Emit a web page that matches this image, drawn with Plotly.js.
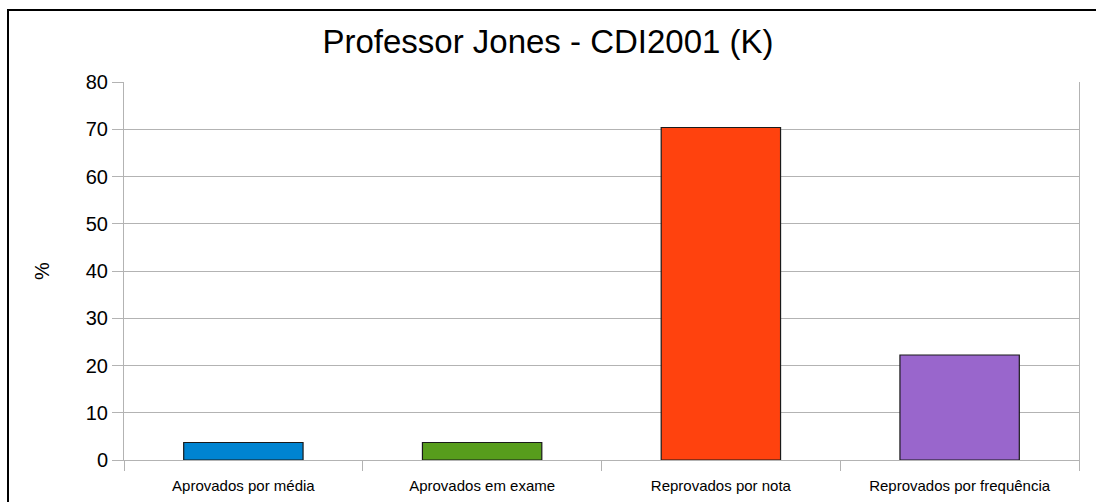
<!DOCTYPE html>
<html><head><meta charset="utf-8">
<script src="https://cdn.plot.ly/plotly-3.0.1.min.js"></script>
<style>body{margin:0;background:#fff;}#wrap{position:relative;width:1096px;height:502px;overflow:hidden;}#chart{width:1096px;height:502px;}#frame{position:absolute;left:7px;top:9px;width:1200px;height:600px;border:2px solid #000;pointer-events:none;}</style>
</head><body>
<div id="wrap"><div id="chart"></div><div id="frame"></div></div>
<script>
const categories = ["Aprovados por média", "Aprovados em exame", "Reprovados por nota", "Reprovados por frequência"];
const values = [3.70, 3.70, 70.37, 22.22];
const colors = ["#0084d1", "#579d1c", "#ff420e", "#9966cc"];
const yTicks = [0, 10, 20, 30, 40, 50, 60, 70, 80];

Plotly.newPlot("chart", [{
  type: "bar", x: categories, y: values,
  marker: {color: colors, line: {color: "#1a1a1a", width: 1.2}},
  width: 0.5, hoverinfo: "none"
}], {
  width: 1096, height: 502,
  margin: {l: 124, r: 17, t: 82, b: 42},
  paper_bgcolor: "#fff", plot_bgcolor: "#fff",
  font: {family: "Liberation Sans, Arial, sans-serif", color: "#000"},
  title: {text: "Professor Jones - CDI2001 (K)", font: {size: 33, color: "#000"}, x: 0.5, xanchor: "center", y: 0.917, yanchor: "middle"},
  showlegend: false,
  xaxis: {
    type: "category", tickson: "boundaries", ticks: "outside", ticklen: 10, tickcolor: "#b3b3b3", tickwidth: 1,
    showline: true, linecolor: "#b3b3b3", linewidth: 1, showgrid: false,
    tickfont: {size: 15, family: "Liberation Sans Narrow, Liberation Sans, Arial, sans-serif"},
    ticklabelstandoff: 12,
    fixedrange: true
  },
  yaxis: {
    range: [0, 80], tickvals: yTicks, ticks: "outside", ticklen: 11, tickcolor: "#b3b3b3",
    showline: true, mirror: true, linecolor: "#b3b3b3", linewidth: 1,
    showgrid: true, gridcolor: "#b3b3b3", gridwidth: 1, zeroline: false,
    tickfont: {size: 20},
    title: {text: "%", font: {size: 20}, standoff: 30},
    fixedrange: true
  }
}, {displayModeBar: false, staticPlot: true});
</script>
</body></html>
